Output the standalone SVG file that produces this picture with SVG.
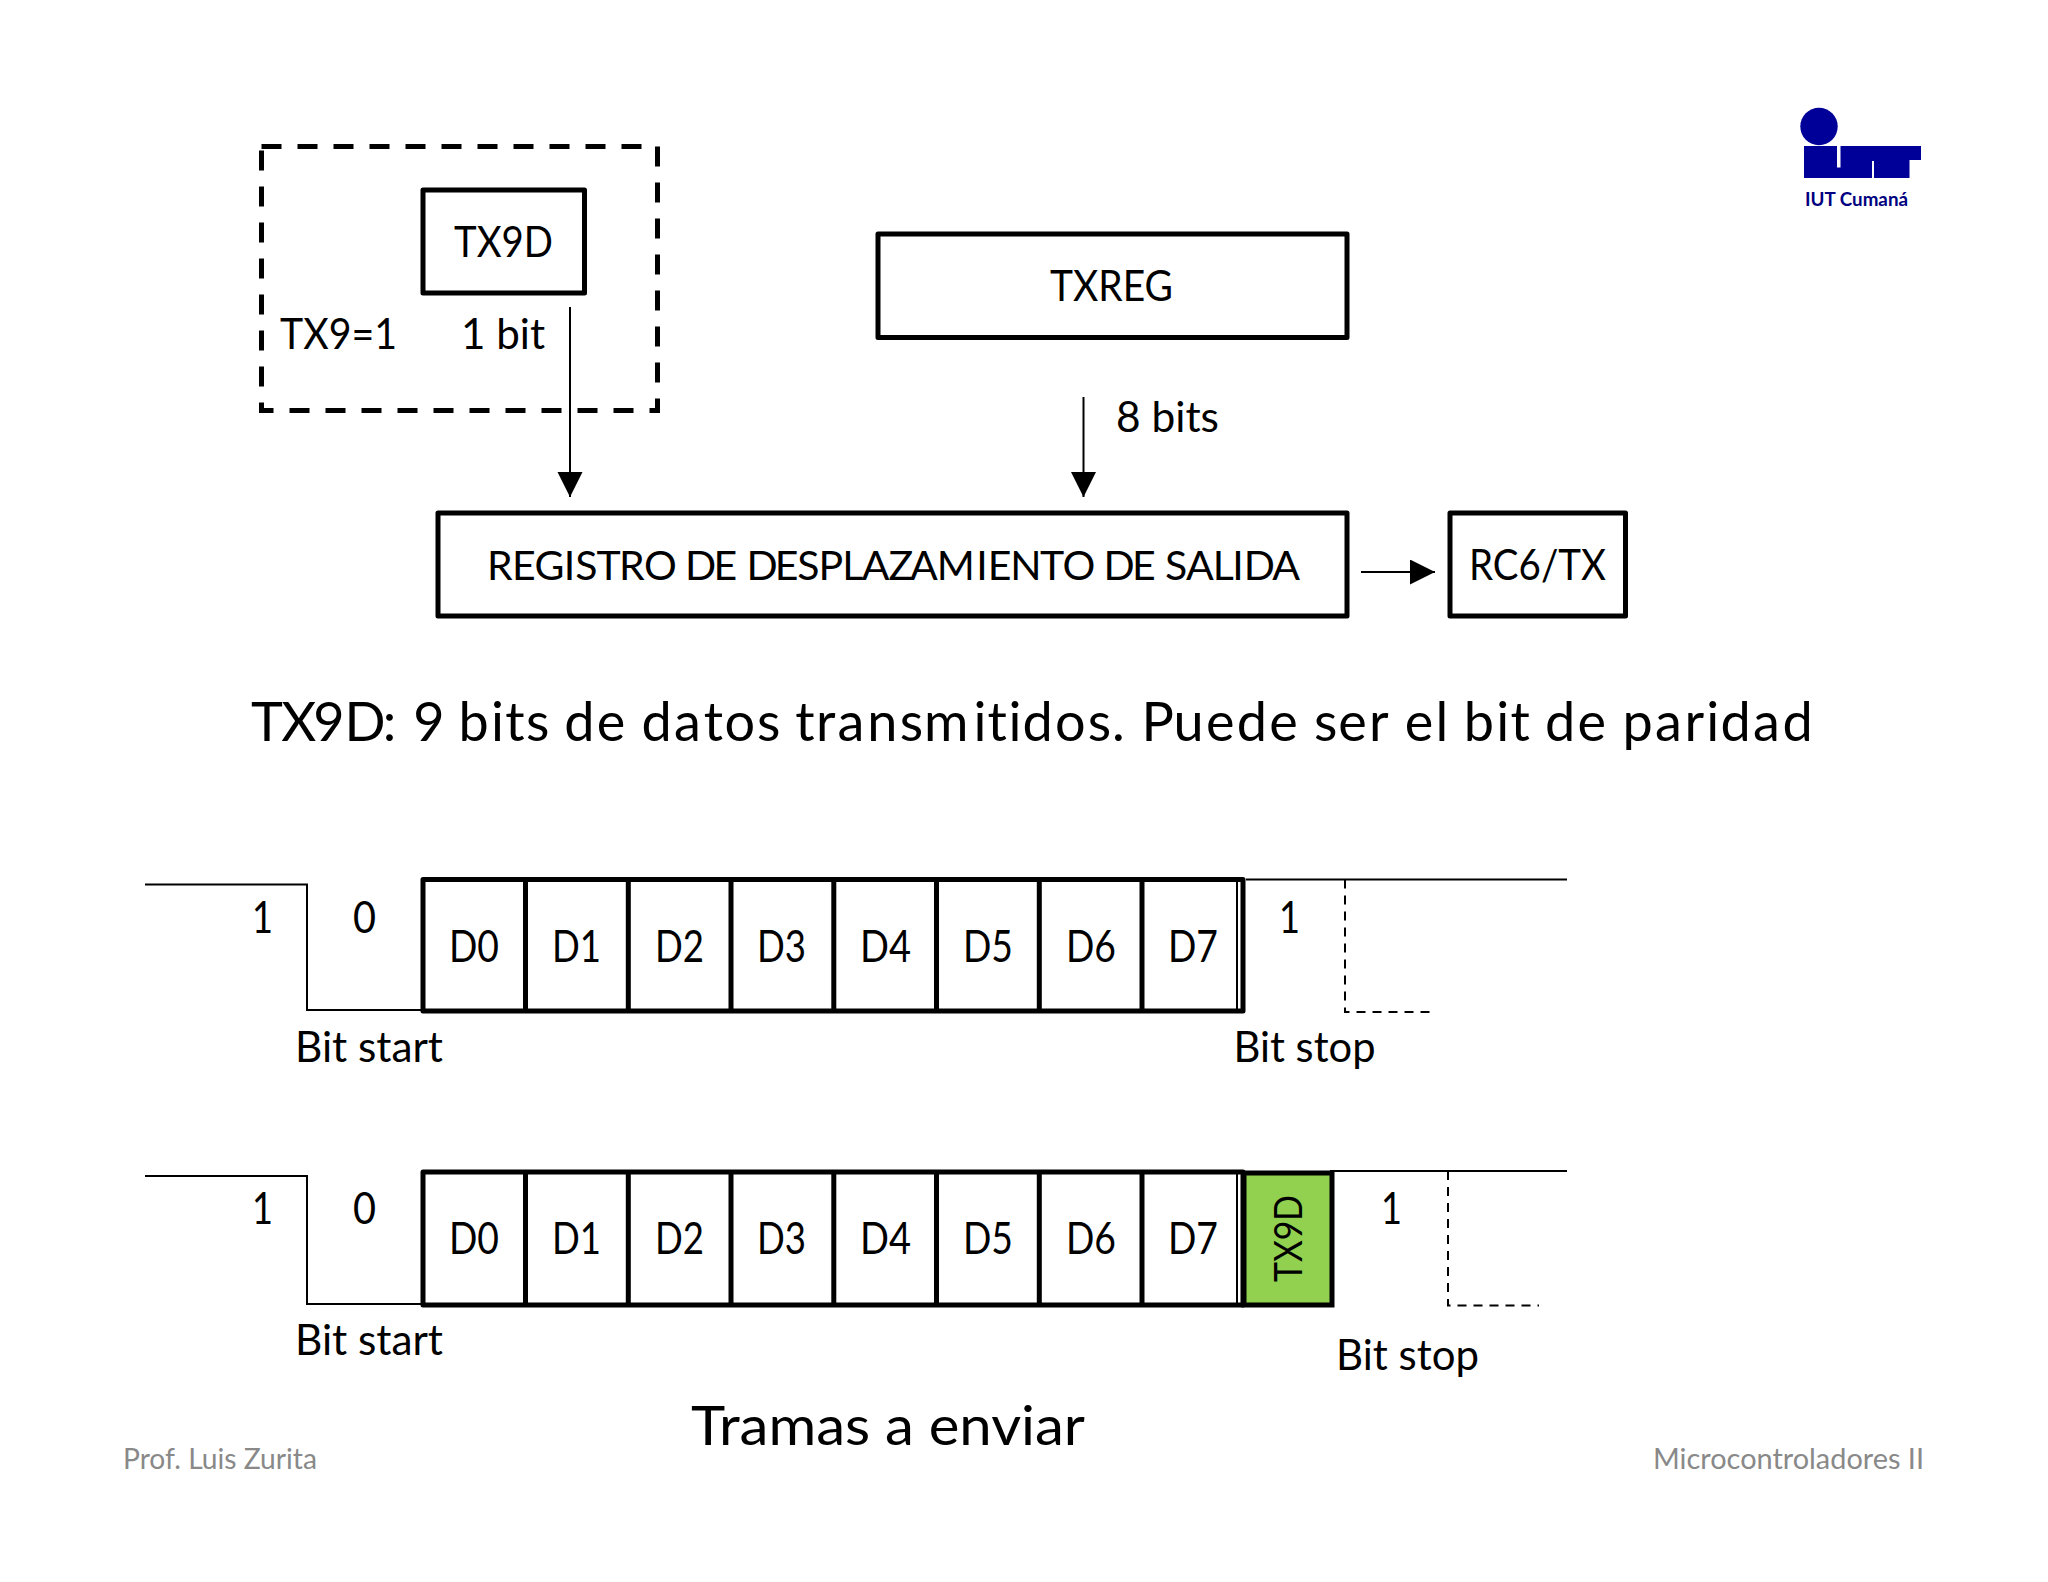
<svg xmlns="http://www.w3.org/2000/svg" width="2048" height="1582" viewBox="0 0 2048 1582">
<style>
text{font-family:Lato,"Open Sans",sans-serif;fill:#000;font-variant-ligatures:none}
.t{font-size:42px}
.s{font-size:45px}
.l{font-size:42px}
.big{font-size:54px}
.foot{font-size:29px;fill:#898989}
.box{fill:#fff;stroke:#000;stroke-width:5;stroke-linejoin:round}
.cell{fill:#fff;stroke:#000;stroke-width:5;stroke-linejoin:round}
.div{fill:none;stroke:#000;stroke-width:5}
.thin{fill:none;stroke:#000;stroke-width:2}
.dash{fill:none;stroke:#000;stroke-width:2;stroke-dasharray:9 7}
.arr{fill:none;stroke:#000;stroke-width:2;marker-end:url(#a)}
</style>
<defs>
<marker id="a" markerUnits="userSpaceOnUse" markerWidth="26" markerHeight="26" refX="25" refY="12.500" orient="auto"><path d="M0 0L25 12.500L0 25Z" fill="#000"/></marker>
</defs>
<rect width="2048" height="1582" fill="#fff"/>
<g id="logo">
<circle cx="1819" cy="126.500" r="18.700" fill="#000099"/>
<path d="M1804 146H1837V167.500H1840.500V146H1921V160H1909.500V178H1874V161H1872V178H1804Z" fill="#000099"/>
<text x="1805" y="206" font-size="18" font-weight="700" style="fill:#000080" textLength="103" lengthAdjust="spacingAndGlyphs">IUT Cumaná</text>
</g>
<g id="tx9-group">
<rect x="261.500" y="146.500" width="396" height="264" fill="none" stroke="#000" stroke-width="5" stroke-dasharray="20 16"/>
<text class="t" x="280" y="349" textLength="117" lengthAdjust="spacingAndGlyphs">TX9=1</text>
<text class="t" x="461" y="349" textLength="84" lengthAdjust="spacingAndGlyphs">1 bit</text>
</g>
<g id="tx9d">
<rect class="box" x="423" y="190" width="161.500" height="103"/>
<text class="t" x="454" y="257" textLength="99" lengthAdjust="spacingAndGlyphs">TX9D</text>
</g>
<g id="txreg">
<rect class="box" x="878" y="234" width="469" height="103.500"/>
<text class="t" x="1050" y="301" textLength="123" lengthAdjust="spacingAndGlyphs">TXREG</text>
</g>
<g id="registro">
<rect class="box" x="438" y="513" width="909" height="103"/>
<text class="t" style="font-size:41px" y="580" x="487 512.1 534.6 563.7 575.3 596.5 619 644.1 674.6 685 713.4 735.9 746.4 774.8 797.3 818.5 842.3 861.7 888.4 910 936.7 976.2 987.8 1010.3 1040.1 1062.6 1093.2 1103.6 1132 1154.5 1164.9 1186.1 1212.8 1232.2 1243.8 1272.2">REGISTRO DE DESPLAZAMIENTO DE SALIDA</text>
</g>
<g id="rc6">
<rect class="box" x="1450" y="513" width="175.500" height="103"/>
<text class="t" x="1469" y="580" textLength="137" lengthAdjust="spacingAndGlyphs">RC6/TX</text>
</g>
<g id="connectors">
<path class="arr" d="M570 307V497"/>
<path class="arr" d="M1083.500 397V497"/>
<path class="arr" d="M1361 572H1435"/>
</g>
<text id="bits8" class="t" x="1116" y="432" textLength="103" lengthAdjust="spacingAndGlyphs">8 bits</text>
<text id="caption" class="big" y="741" x="251 281.2 313.2 344.6 382.7 399.3 413.3 444.6 458.6 491.1 505.3 526.1 550.3 564.3 596.8 627.6 641.6 674.1 703.8 724.5 757.1 781.3 795.3 816.1 837.6 867.3 899.8 924 973.4 987.6 1008.4 1022.6 1055.1 1087.7 1111.9 1127.5 1141.5 1173.5 1206 1236.8 1269.3 1300.1 1314.1 1338.3 1369.1 1390.7 1404.7 1435.5 1449.7 1463.7 1496.2 1510.4 1531.1 1545.1 1577.6 1608.4 1622.4 1654.9 1684.6 1706.2 1720.4 1752.9 1782.6">TX9D: 9 bits de datos transmitidos. Puede ser el bit de paridad</text>
<g id="frame1">
<path class="thin" d="M145 884.500H307V1010H424"/>
<path class="thin" d="M1246 879.500H1567"/>
<path class="dash" d="M1345 879.500V1012H1436"/>
<rect class="cell" x="423" y="879.500" width="820" height="131.500"/>
<path class="div" d="M525.500 880V1011M628.300 880V1011M731 880V1011M833.800 880V1011M936.500 880V1011M1039.300 880V1011M1142 880V1011"/>
<path class="thin" d="M1237 880V1011"/>
<text class="s" x="252" y="933" textLength="21" lengthAdjust="spacingAndGlyphs">1</text>
<text class="s" x="353" y="933" textLength="23" lengthAdjust="spacingAndGlyphs">0</text>
<text class="s" x="449" y="962" textLength="50" lengthAdjust="spacingAndGlyphs">D0</text>
<text class="s" x="552" y="962" textLength="49" lengthAdjust="spacingAndGlyphs">D1</text>
<text class="s" x="655" y="962" textLength="49" lengthAdjust="spacingAndGlyphs">D2</text>
<text class="s" x="757" y="962" textLength="49" lengthAdjust="spacingAndGlyphs">D3</text>
<text class="s" x="860" y="962" textLength="51" lengthAdjust="spacingAndGlyphs">D4</text>
<text class="s" x="963" y="962" textLength="50" lengthAdjust="spacingAndGlyphs">D5</text>
<text class="s" x="1066" y="962" textLength="50" lengthAdjust="spacingAndGlyphs">D6</text>
<text class="s" x="1168" y="962" textLength="50" lengthAdjust="spacingAndGlyphs">D7</text>
<text class="s" x="1279" y="933" textLength="21" lengthAdjust="spacingAndGlyphs">1</text>
<text class="l" x="295" y="1062" textLength="148" lengthAdjust="spacingAndGlyphs">Bit start</text>
<text class="l" x="1233.500" y="1062" textLength="142" lengthAdjust="spacingAndGlyphs">Bit stop</text>
</g>
<g id="frame2">
<path class="thin" d="M145 1176H307V1304H424"/>
<path class="thin" d="M1330 1171H1567"/>
<path class="dash" d="M1448 1171V1305.500H1539"/>
<rect class="cell" x="423" y="1172" width="820" height="133"/>
<path class="div" d="M525.500 1172V1305M628.300 1172V1305M731 1172V1305M833.800 1172V1305M936.500 1172V1305M1039.300 1172V1305M1142 1172V1305"/>
<path class="thin" d="M1237 1172V1305"/>
<g id="tx9d-bit">
<rect x="1244" y="1173" width="88" height="132" fill="#92d050" stroke="#000" stroke-width="5"/>
<text class="s" transform="translate(1302 1282) rotate(-90)" textLength="87" lengthAdjust="spacingAndGlyphs" style="font-size:38px">TX9D</text>
</g>
<text class="s" x="252" y="1224" textLength="21" lengthAdjust="spacingAndGlyphs">1</text>
<text class="s" x="353" y="1224" textLength="23" lengthAdjust="spacingAndGlyphs">0</text>
<text class="s" x="449" y="1254" textLength="50" lengthAdjust="spacingAndGlyphs">D0</text>
<text class="s" x="552" y="1254" textLength="49" lengthAdjust="spacingAndGlyphs">D1</text>
<text class="s" x="655" y="1254" textLength="49" lengthAdjust="spacingAndGlyphs">D2</text>
<text class="s" x="757" y="1254" textLength="49" lengthAdjust="spacingAndGlyphs">D3</text>
<text class="s" x="860" y="1254" textLength="51" lengthAdjust="spacingAndGlyphs">D4</text>
<text class="s" x="963" y="1254" textLength="50" lengthAdjust="spacingAndGlyphs">D5</text>
<text class="s" x="1066" y="1254" textLength="50" lengthAdjust="spacingAndGlyphs">D6</text>
<text class="s" x="1168" y="1254" textLength="50" lengthAdjust="spacingAndGlyphs">D7</text>
<text class="s" x="1381" y="1224" textLength="21" lengthAdjust="spacingAndGlyphs">1</text>
<text class="l" x="295" y="1355" textLength="148" lengthAdjust="spacingAndGlyphs">Bit start</text>
<text class="l" x="1336" y="1370" textLength="143" lengthAdjust="spacingAndGlyphs">Bit stop</text>
</g>
<text id="tramas" class="big" x="691" y="1445" textLength="394" lengthAdjust="spacingAndGlyphs">Tramas a enviar</text>
<text id="footer-left" class="foot" x="123" y="1469" textLength="194" lengthAdjust="spacingAndGlyphs">Prof. Luis Zurita</text>
<text id="footer-right" class="foot" x="1653" y="1469" textLength="271" lengthAdjust="spacingAndGlyphs">Microcontroladores II</text>
</svg>
